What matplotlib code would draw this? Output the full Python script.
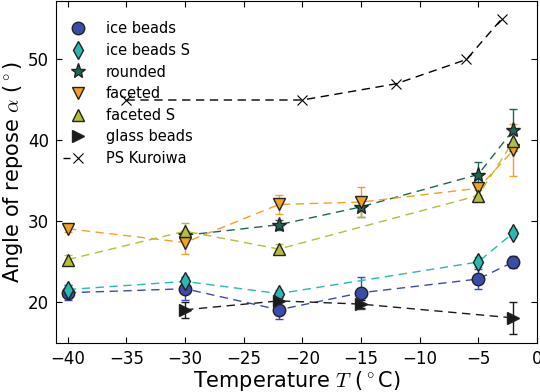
import matplotlib
matplotlib.use("Agg")
import matplotlib.pyplot as plt
from matplotlib.lines import Line2D

plt.rcParams['font.family'] = ['DejaVu Sans']
plt.rcParams['mathtext.fontset'] = 'cm'

ice_T = [-40, -30, -22, -15, -5, -2]
ice_A = [21.2, 21.7, 19.1, 21.2, 22.9, 25.0]
ice_E = [0.9, 1.4, 1.1, 2.0, 1.2, 0.7]

iceS_T = [-40, -30, -22, -5, -2]
iceS_A = [21.6, 22.6, 21.1, 25.0, 28.6]
iceS_E = [0.5, 0.6, 0.4, 0.6, 0.5]

rnd_T = [-30, -22, -15, -5, -2]
rnd_A = [28.3, 29.6, 31.8, 35.8, 41.3]
rnd_E = [0.5, 0.6, 1.2, 1.5, 2.6]

fac_T = [-40, -30, -22, -15, -5, -2]
fac_A = [29.1, 27.4, 32.1, 32.4, 34.1, 38.8]
fac_E = [0.4, 1.4, 1.2, 1.8, 0.8, 3.2]

facS_T = [-40, -30, -22, -5, -2]
facS_A = [25.3, 28.8, 26.6, 33.2, 39.9]
facS_E = [0.6, 1.0, 0.6, 0.7, 0.8]

glass_T = [-30, -22, -15, -2]
glass_A = [19.1, 20.2, 19.8, 18.1]
glass_E = [1.0, 0.8, 0.5, 2.0]

kur_T = [-35, -20, -12, -6, -3]
kur_A = [45, 45, 47, 50, 55]

fig = plt.figure(figsize=(5.4, 3.92), dpi=100)
ax = fig.add_axes([0.104, 0.125, 0.89, 0.872])

series = [
    ("ice beads", ice_T, ice_A, ice_E, 'o', '#3a4ca8', 9),
    ("ice beads S", iceS_T, iceS_A, iceS_E, 'd', '#2ab8b0', 9),
    ("rounded", rnd_T, rnd_A, rnd_E, '*', '#1d6656', 11),
    ("faceted", fac_T, fac_A, fac_E, 'v', '#f4a020', 9),
    ("faceted S", facS_T, facS_A, facS_E, '^', '#b5be35', 9),
    ("glass beads", glass_T, glass_A, glass_E, '>', '#1a1a1a', 9),
]
handles = []
for lab, T, A, E, m, c, ms in series:
    ax.errorbar(T, A, yerr=E, fmt=m, linestyle='--', color=c, mfc=c, mec='#222222',
                ms=ms, capsize=3, elinewidth=1, capthick=1, lw=1, dashes=(6, 4))
    handles.append(Line2D([], [], linestyle='none', marker=m, mfc=c, mec='#222222',
                          ms=ms, label=lab))
ax.plot(kur_T, kur_A, 'x--', color='black', ms=7, mew=0.8, lw=1, dashes=(6, 4))
handles.append(Line2D([], [], linestyle='--', dashes=(5, 20), color='black', lw=1,
                      marker='x', ms=7, mew=0.8, label="PS Kuroiwa"))

ax.set_xlim(-41, 0)
ax.set_ylim(15, 57.2)
ax.set_xticks([-40, -35, -30, -25, -20, -15, -10, -5, 0])
ax.set_yticks([20, 30, 40, 50])
ax.tick_params(direction='in', top=True, right=True, labelsize=12, length=4.5, pad=5)
for s in ax.spines.values():
    s.set_color('black')
ax.set_xlabel(r'Temperature $T$ ($^\circ$C)', fontsize=15, labelpad=1)
ax.set_ylabel(r'Angle of repose $\alpha$ ($^\circ$)', fontsize=15, labelpad=2)

leg = ax.legend(handles=handles, loc='upper left', bbox_to_anchor=(0, 0.962),
                frameon=False, numpoints=1,
                fontsize=10.5, handlelength=2.0, borderaxespad=0.2, borderpad=0.3,
                labelspacing=0.45, handletextpad=0.9)

fig.savefig("out.png", dpi=100)
